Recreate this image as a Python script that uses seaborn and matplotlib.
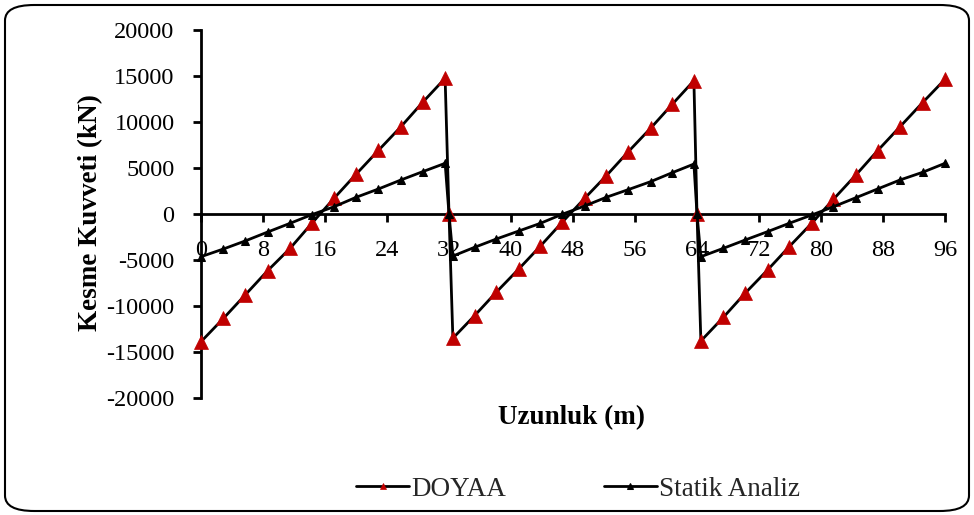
import matplotlib
matplotlib.use("Agg")
import matplotlib.pyplot as plt
from matplotlib.patches import FancyBboxPatch
import seaborn as sns
import pandas as pd

# ---- data ----
x_pos = [0, 2.9, 5.7, 8.6, 11.5, 14.3, 17.2, 20.0, 22.9, 25.8, 28.6, 31.5,
         32.0,
         32.5, 35.3, 38.1, 41.0, 43.8, 46.6, 49.5, 52.3, 55.1, 58.0, 60.8, 63.6,
         64.0,
         64.5, 67.4, 70.2, 73.1, 75.9, 78.8, 81.6, 84.5, 87.3, 90.2, 93.1, 96.0]

doyaa = [-13880, -11340, -8800, -6160, -3730, -1010, 1740, 4315, 6920, 9490, 12140, 14750,
         0,
         -13500, -11050, -8500, -5980, -3480, -900, 1700, 4160, 6740, 9310, 11920, 14490,
         0,
         -13800, -11230, -8620, -6090, -3550, -1010, 1600, 4240, 6880, 9490, 12100, 14640]

statik = [-4640, -3800, -2930, -1960, -1010, -70, 800, 1810, 2720, 3700, 4600, 5510,
          0,
          -4570, -3620, -2720, -1850, -1010, -30, 870, 1820, 2640, 3510, 4490, 5430,
          0,
          -4640, -3730, -2830, -1920, -1010, -110, 790, 1770, 2720, 3700, 4530, 5510]

x_ticks = [0, 8, 16, 24, 32, 40, 48, 56, 64, 72, 80, 88, 96]
y_ticks = [-20000, -15000, -10000, -5000, 0, 5000, 10000, 15000, 20000]

series_names = ["DOYAA", "Statik Analiz"]
x_label = "Uzunluk (m)"
y_label = "Kesme Kuvveti (kN)"

# ---- style ----
sns.set_theme(style="white")
plt.rcParams["font.family"] = ["Liberation Serif", "DejaVu Serif"]

W, H = 974, 515
fig = plt.figure(figsize=(W / 100, H / 100), dpi=100)
ax = fig.add_axes([201 / W, 1 - 398 / H, 744 / W, 368 / H])

df_d = pd.DataFrame({"x": x_pos, "y": doyaa})
df_s = pd.DataFrame({"x": x_pos, "y": statik})

red = "#C00000"
sns.lineplot(data=df_d, x="x", y="y", ax=ax, sort=False, estimator=None,
             color="black", linewidth=2.0, marker="^", markersize=10,
             markerfacecolor=red, markeredgecolor=red, markeredgewidth=0.5,
             label=series_names[0], clip_on=False, zorder=3)
sns.lineplot(data=df_s, x="x", y="y", ax=ax, sort=False, estimator=None,
             color="black", linewidth=2.0, marker="^", markersize=6,
             markerfacecolor="black", markeredgecolor="black",
             label=series_names[1], clip_on=False, zorder=4)

ax.set_xlim(0, 96)
ax.set_ylim(-20000, 20000)
ax.set_xticks(x_ticks)
ax.set_yticks(y_ticks)
ax.set_xticklabels([str(t) for t in x_ticks])
ax.set_yticklabels([str(t) for t in y_ticks])
ax.set_xlabel("")
ax.set_ylabel("")

for s in ["top", "right"]:
    ax.spines[s].set_visible(False)
ax.spines["bottom"].set_position(("data", 0))
ax.spines["left"].set_position(("data", 0))
for s in ["bottom", "left"]:
    ax.spines[s].set_color("black")
    ax.spines[s].set_linewidth(2.0)
    ax.spines[s].set_zorder(2)

ax.tick_params(axis="both", direction="out", length=6, width=2, color="black",
               labelsize=17.5, labelcolor="black")
ax.tick_params(axis="x", pad=13)
ax.tick_params(axis="y", pad=13, left=True)
ax.tick_params(axis="x", bottom=True)
ax.set_facecolor("none")
ax.grid(False)

fig.text(91 / W, 1 - 213 / H, y_label, rotation=90, ha="center", va="center",
         fontsize=19.5, fontweight="bold", color="black")
fig.text(572 / W, 1 - 418 / H, x_label, ha="center", va="center",
         fontsize=19.5, fontweight="bold", color="black")

handles, labels = ax.get_legend_handles_labels()
leg = ax.legend(handles, labels, loc="center", bbox_to_anchor=(578 / W, 1 - 489 / H),
                bbox_transform=fig.transFigure, ncol=2, frameon=False, fontsize=19.5,
                handlelength=1.95, handletextpad=0.08, columnspacing=3.6)
for h in leg.legend_handles:
    h.set_markersize(5)

border = FancyBboxPatch((5 / W, 4 / H), (W - 10) / W, (H - 9) / H,
                        boxstyle="round,pad=0,rounding_size=0.03",
                        transform=fig.transFigure, fill=False,
                        edgecolor="black", linewidth=1.5)
fig.patches.append(border)

fig.savefig("out.png", dpi=100)
